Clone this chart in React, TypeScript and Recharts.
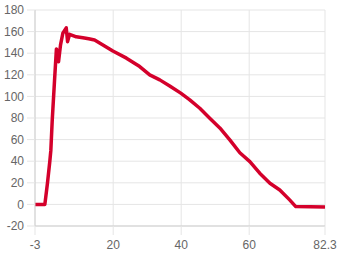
import React from "react";
import { LineChart, Line, XAxis, YAxis, CartesianGrid } from "recharts";

const xValues = [-3, -0.1, 0.68, 1.36, 1.66, 2.07, 2.75, 3.3, 3.92, 4.51, 5.19, 6.19, 6.58, 7.17, 9.14, 11.08, 12.8, 14.53, 16.98, 19.9, 23.9, 27.8, 30.74, 33.7, 36.63, 39.87, 42.52, 45.47, 48.4, 51.36, 54.3, 57.25, 60.2, 63.1, 66.1, 69.0, 71.9, 73.7, 82.3];
const yValues = [0, 0, 20, 40, 50, 78, 115, 144, 132, 147.7, 158.5, 163.5, 150.7, 157.5, 155.2, 154.3, 153.4, 152.3, 147.7, 142, 135.4, 127.6, 119.9, 115.3, 109.7, 103, 96.8, 89, 79.8, 70.8, 59.7, 47.8, 39.6, 28.9, 19.6, 13.4, 4.2, -2, -2.5];
const xTicks = [-3, 20, 40, 60, 82.3];
const yTicks = [-20, 0, 20, 40, 60, 80, 100, 120, 140, 160, 180];

const data = xValues.map((x, i) => ({ x, y: yValues[i] }));

const font = "'Helvetica Neue', Helvetica, Arial, 'Liberation Sans', sans-serif";
const gridColor = "#e5e5e5";
const axisColor = "#d0d0d0";

export default function App() {
  return (
    <div style={{ position: "absolute", left: 0, top: 0 }}>
      <LineChart width={340} height={255} data={data} margin={{ top: 10, right: 15, left: 0, bottom: 0 }}>
        <CartesianGrid stroke={gridColor} strokeDasharray="" />
        <XAxis
          dataKey="x"
          type="number"
          domain={[-3, 82.3]}
          ticks={xTicks}
          interval={0}
          height={29}
          tickSize={9}
          tickMargin={5}
          tickLine={{ stroke: gridColor }}
          axisLine={{ stroke: axisColor }}
          tick={{ fill: "#666", fontSize: 12, fontFamily: font }}
          allowDataOverflow
        />
        <YAxis
          type="number"
          domain={[-20, 180]}
          ticks={yTicks}
          interval={0}
          width={35}
          tickSize={8}
          tickMargin={3}
          tickLine={{ stroke: gridColor }}
          axisLine={{ stroke: axisColor }}
          tick={{ fill: "#666", fontSize: 12, fontFamily: font }}
        />
        <Line
          type="linear"
          dataKey="y"
          stroke="#d4002b"
          strokeWidth={3.5}
          dot={false}
          isAnimationActive={false}
          strokeLinejoin="round"
        />
      </LineChart>
    </div>
  );
}
